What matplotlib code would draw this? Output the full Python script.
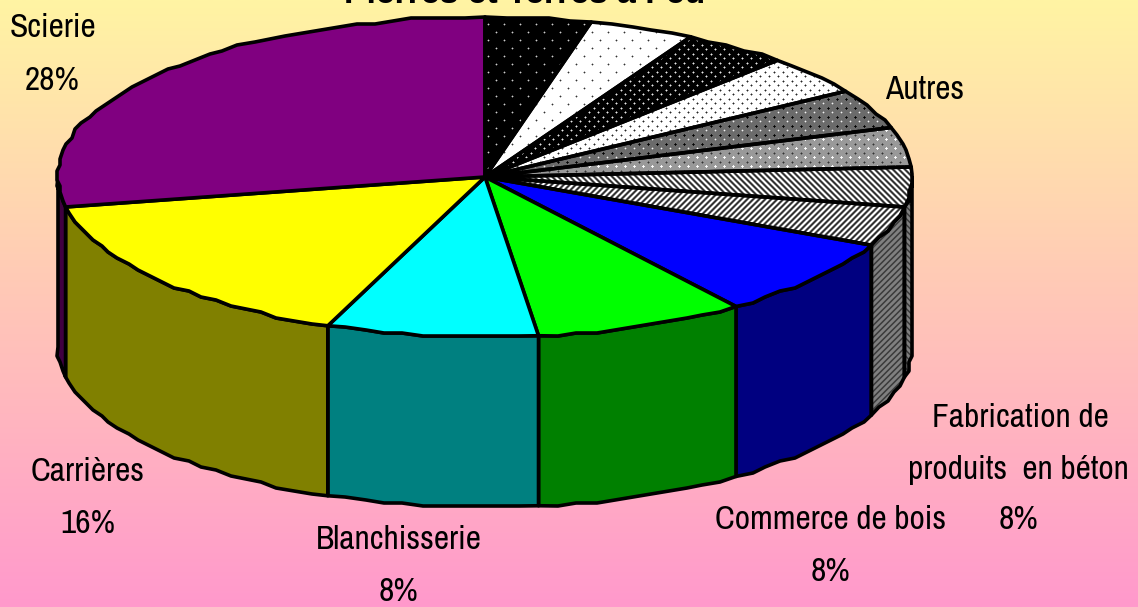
#!/usr/bin/env python3
"""3D pie chart: Pierres et Terres a Feu, share of each sector."""

import matplotlib
matplotlib.use('Agg')
import matplotlib.pyplot as plt
from matplotlib.colors import LinearSegmentedColormap
from matplotlib.patches import Polygon
import numpy as np

# clockwise from 12 o'clock
slice_values = [4, 4, 4, 4, 4, 4, 4, 4, 8, 8, 8, 16, 28]
slice_names = ['Autres 1', 'Autres 2', 'Autres 3', 'Autres 4', 'Autres 5', 'Autres 6',
               'Autres 7', 'Autres 8', 'Fabrication de produits en béton',
               'Commerce de bois', 'Blanchisserie', 'Carrières', 'Scierie']
top_colors = ['p_black_sparse', 'p_white_sparse', 'p_black_dense', 'p_white_dense',
              'p_gray_dark', 'p_gray_light', 'p_hatch_back', 'p_hatch_fwd',
              '#0000FF', '#00FF00', '#00FFFF', '#FFFF00', '#800080']
side_colors = ['p_side_back', 'p_side_fwd', '#000080', '#008000', '#008080',
               '#808000', '#400040']

title = 'Pierres et Terres à Feu'
labels = [
    ('Scierie', 53, 28), ('28%', 52, 81),
    ('Autres', 925, 90),
    ('Fabrication de', 1020, 418), ('produits  en béton', 1018, 470), ('8%', 1019, 520),
    ('Commerce de bois', 831, 520), ('8%', 831, 572),
    ('Blanchisserie', 399, 540), ('8%', 399, 592),
    ('Carrières', 88, 472), ('16%', 88, 524),
]

W, H = 1138, 607
CX, CY, RX, RY, DEPTH = 485, 177, 427, 160, 170
LW = 2.6
TEXT_FONT = ['Archivo Narrow', 'Liberation Sans']

# small gray tiles for the bitmap fill patterns
def dots(size, base, specs):
    """specs are (row, col, centre gray, halo gray), the halo is a plus shape round the centre."""
    tile = np.full((size, size), base, dtype=float)
    for row, col, val, halo in specs:
        for dr, dc in [(0, 1), (0, -1), (1, 0), (-1, 0)]:
            tile[(row + dr) % size, (col + dc) % size] = halo
        tile[row, col] = val
    return tile

def stripes(period, values, flip):
    tile = np.zeros((period, period))
    for row in range(period):
        for col in range(period):
            tile[row, col] = values[((col - row) if flip else (col + row)) % period]
    return tile

TILES = {
    'p_black_sparse': dots(16, 0.0, [(0, 0, 0.8, 0.3), (8, 8, 0.8, 0.3)]),
    'p_white_sparse': dots(16, 1.0, [(0, 0, 0.2, 0.7), (8, 8, 0.2, 0.7)]),
    'p_black_dense': dots(9, 0.0, [(0, 0, 0.9, 0.45), (4, 4, 0.9, 0.45)]),
    'p_white_dense': dots(9, 1.0, [(0, 0, 0.15, 0.6), (4, 4, 0.15, 0.6)]),
    'p_gray_dark': dots(9, 0.42, [(0, 0, 0.0, 0.1), (4, 4, 0.95, 0.6)]),
    'p_gray_light': dots(9, 0.6, [(0, 0, 0.2, 0.4), (4, 4, 1.0, 0.95)]),
    'p_hatch_back': stripes(6, [1.0, 1.0, 0.6, 0.2, 0.2, 0.6], True),
    'p_hatch_fwd': stripes(6, [1.0, 1.0, 0.6, 0.2, 0.2, 0.6], False),
    'p_side_back': stripes(6, [0.5, 0.5, 0.45, 0.25, 0.25, 0.45], True),
    'p_side_fwd': stripes(6, [0.5, 0.5, 0.45, 0.25, 0.25, 0.45], False),
}

def rim(t_from, t_to, dy=0):
    """Points along the ellipse rim, snapped to a coarse grid like the low-res original."""
    n = max(int(abs(t_to - t_from) / np.radians(2.5)), 1)
    t = np.linspace(t_from, t_to, n + 1)
    x = CX + RX * np.sin(t)
    y = CY - RY * np.cos(t)
    x[1:-1] = np.round(x[1:-1] / 3) * 3
    y[1:-1] = np.round(y[1:-1] / 3) * 3
    return np.column_stack([x, y + dy])

def draw_region(ax, pts, fill, zorder):
    if fill in TILES:
        tile = TILES[fill]
        xx, yy = np.meshgrid(np.arange(W), np.arange(H))
        img = tile[yy % tile.shape[0], xx % tile.shape[1]]
        im = ax.imshow(img, cmap='gray', vmin=0, vmax=1, extent=(0, W, H, 0),
                       interpolation='nearest', aspect='auto', zorder=zorder)
        clip = Polygon(pts, closed=True, fc='none', ec='black', lw=LW, zorder=zorder + 0.5,
                       joinstyle='round')
        ax.add_patch(clip)
        im.set_clip_path(clip)
    else:
        ax.add_patch(Polygon(pts, closed=True, fc=fill, ec='black', lw=LW, zorder=zorder,
                             joinstyle='round'))

def main():
    fig = plt.figure(figsize=(W / 100, H / 100), dpi=100)
    ax = fig.add_axes([0, 0, 1, 1])
    ax.axis('off')

    # background gradient
    cmap = LinearSegmentedColormap.from_list('bg', ['#FFF4A3', '#FF99CC'])
    ax.imshow(np.linspace(0, 1, 256).reshape(-1, 1), cmap=cmap, extent=(0, W, H, 0),
              aspect='auto', zorder=0)

    fracs = np.array(slice_values, dtype=float) / sum(slice_values)
    edges = np.concatenate([[0], np.cumsum(fracs)]) * 2 * np.pi

    # outer wall, only the part at the front of the pie can be seen
    side_iter = iter(side_colors)
    for a, b in zip(edges[:-1], edges[1:]):
        t0, t1 = max(a, np.pi / 2), min(b, 1.5 * np.pi)
        if t1 <= t0:
            continue
        pts = np.vstack([rim(t0, t1), rim(t1, t0, DEPTH)])
        draw_region(ax, pts, next(side_iter), 2)

    # top face
    for a, b, fill in zip(edges[:-1], edges[1:], top_colors):
        pts = np.vstack([[[CX, CY]], rim(a, b)])
        draw_region(ax, pts, fill, 3)

    ax.text(525, 3, title, ha='center', va='baseline', fontsize=24.3, fontweight='bold',
            family='Liberation Sans', zorder=5, clip_on=False)
    for txt, x, y in labels:
        ax.text(x, y, txt, ha='center', va='center', fontsize=24, family=TEXT_FONT,
                color='black', zorder=5)

    ax.set_xlim(0, W)
    ax.set_ylim(H, 0)
    fig.savefig('out.png', dpi=100)
    plt.close(fig)

if __name__ == "__main__":
    main()
